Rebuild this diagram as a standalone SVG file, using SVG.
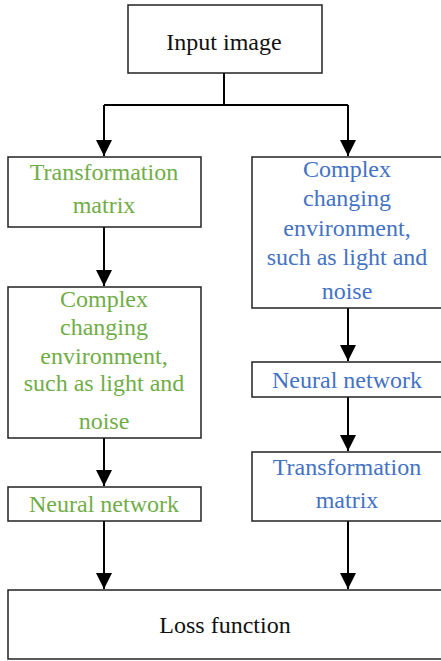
<svg xmlns="http://www.w3.org/2000/svg" width="441" height="661" viewBox="0 0 441 661">
<style>
.box{fill:#fff;stroke:#222;stroke-width:1.5}
text{font-family:'Liberation Serif','DejaVu Serif','Times New Roman',serif;font-size:24px;text-anchor:middle}
.k{fill:#111}
.g{fill:#70AD47}
.b{fill:#4472C4}
.c{fill:none;stroke:#000;stroke-width:2}
</style>
<defs>
<marker id="ah" markerUnits="userSpaceOnUse" markerWidth="16" markerHeight="16" refX="16" refY="8" orient="auto" viewBox="0 0 16 16">
<path d="M0,0 L16,8 L0,16 Z" fill="#000"/>
</marker>
</defs>
<g id="connectors">
<path class="c" d="M224,73 V105 M104,105 H348"/>
<path class="c" d="M104,105 V156" marker-end="url(#ah)"/>
<path class="c" d="M348,105 V156" marker-end="url(#ah)"/>
<path class="c" d="M104,227 V286" marker-end="url(#ah)"/>
<path class="c" d="M104,438 V486" marker-end="url(#ah)"/>
<path class="c" d="M104,521 V589" marker-end="url(#ah)"/>
<path class="c" d="M348,308 V361" marker-end="url(#ah)"/>
<path class="c" d="M348,397 V451" marker-end="url(#ah)"/>
<path class="c" d="M348,521 V589" marker-end="url(#ah)"/>
</g>
<g id="input">
<rect class="box" x="128" y="5" width="194" height="68"/>
<text class="k" x="224" y="50">Input image</text>
</g>
<g id="l-transform">
<rect class="box" x="8" y="157" width="193" height="70"/>
<text class="g" x="104" y="180">Transformation</text>
<text class="g" x="104" y="213">matrix</text>
</g>
<g id="l-env">
<rect class="box" x="8" y="287" width="193" height="151"/>
<text class="g" x="104" y="307">Complex</text>
<text class="g" x="104" y="335">changing</text>
<text class="g" x="104" y="364">environment,</text>
<text class="g" x="104" y="391">such as light and</text>
<text class="g" x="104" y="429">noise</text>
</g>
<g id="l-nn">
<rect class="box" x="8" y="487" width="193" height="34"/>
<text class="g" x="104" y="512">Neural network</text>
</g>
<g id="r-env">
<rect class="box" x="252" y="157" width="190" height="151"/>
<text class="b" x="347" y="177">Complex</text>
<text class="b" x="347" y="206">changing</text>
<text class="b" x="347" y="236">environment,</text>
<text class="b" x="347" y="265">such as light and</text>
<text class="b" x="347" y="299">noise</text>
</g>
<g id="r-nn">
<rect class="box" x="252" y="362" width="190" height="35"/>
<text class="b" x="347" y="388">Neural network</text>
</g>
<g id="r-transform">
<rect class="box" x="252" y="452" width="190" height="69"/>
<text class="b" x="347" y="475">Transformation</text>
<text class="b" x="347" y="508">matrix</text>
</g>
<g id="loss">
<rect class="box" x="8" y="590" width="434" height="69"/>
<text class="k" x="225" y="633">Loss function</text>
</g>
</svg>
